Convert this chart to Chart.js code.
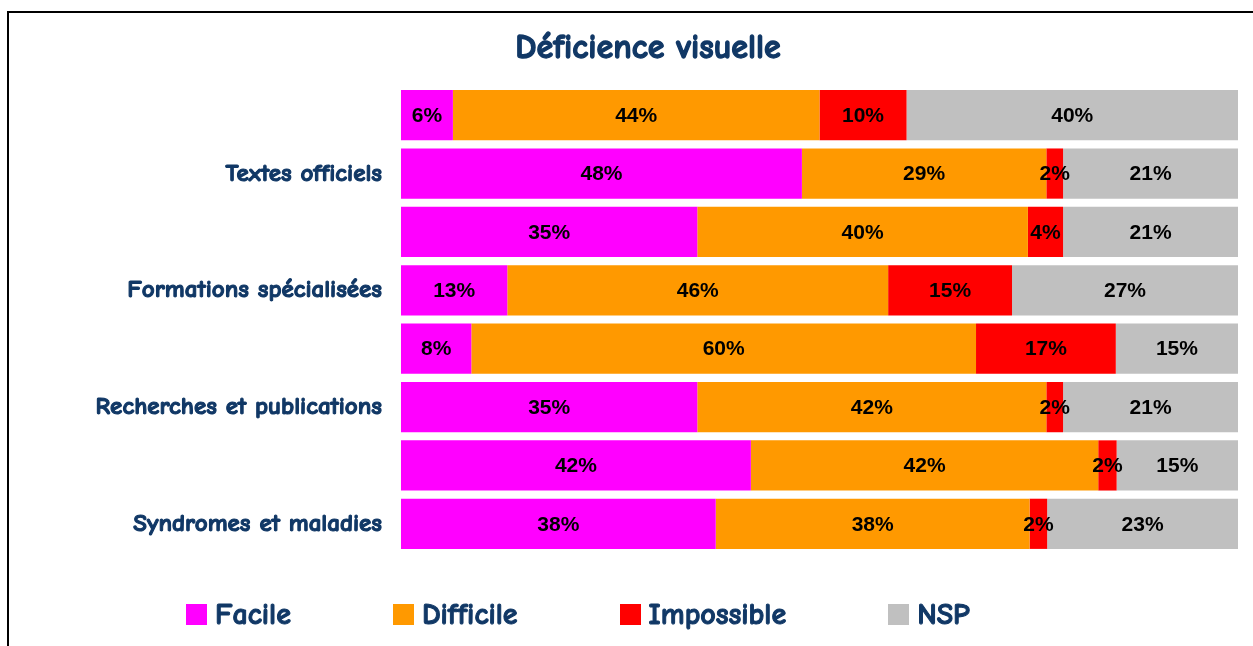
<!DOCTYPE html>
<html>
<head>
<meta charset="utf-8">
<script src="https://cdn.jsdelivr.net/npm/chart.js@4.4.0/dist/chart.umd.min.js"></script>
<style>
    html, body { margin: 0; padding: 0; background: #fff; }
    #wrap { position: relative; width: 1253px; height: 646px; overflow: hidden; }
    #frame { position: absolute; left: 7px; top: 11px; right: -5px; bottom: -5px;
        border-top: 2px solid #000; border-left: 2px solid #000; }
    #myChart { position: absolute; left: 0; top: 0; }
    #legend { position: absolute; left: 186px; top: 597px; display: flex; gap: 102px;
        font: bold 30px "Comic Sans MS", "Comic Neue", "DejaVu Sans", sans-serif; color: #113866;
        -webkit-text-stroke: 1px #113866; }
    .item { display: flex; align-items: center; }
    .box { width: 21px; height: 21px; margin-right: 8px; }
</style>
</head>
<body>
<div id="wrap">
    <div id="frame"></div>
    <canvas id="myChart" width="1253" height="646"></canvas>
    <div id="legend"></div>
</div>
<script>
const categories = ['', 'Textes officiels', '', 'Formations spécialisées', '', 'Recherches et publications', '', 'Syndromes et maladies'];
const seriesNames = ['Facile', 'Difficile', 'Impossible', 'NSP'];
const facile     = [6.2, 47.9, 35.4, 12.7, 8.4, 35.4, 41.8, 37.6];
const difficile  = [43.8, 29.2, 39.5, 45.5, 60.3, 41.7, 41.5, 37.5];
const impossible = [10.4, 2.0, 4.2, 14.8, 16.7, 2.0, 2.2, 2.1];
const nsp        = [39.6, 20.9, 20.9, 27.0, 14.6, 20.9, 14.5, 22.8];
const colors = ['#ff00ff', '#ff9900', '#ff0000', '#c0c0c0'];

const comic = '"Comic Sans MS", "Comic Neue", "DejaVu Sans", sans-serif';
const navy = '#113866';
const tickSize = 25, titleSize = 34;

// labels inside the bars
const barLabels = {
    id: 'barLabels',
    afterDatasetsDraw(chart) {
        const ctx = chart.ctx;
        ctx.save();
        ctx.font = 'bold 21px "Liberation Sans", Arial, sans-serif';
        ctx.fillStyle = '#000';
        ctx.textAlign = 'center';
        ctx.textBaseline = 'middle';
        chart.data.datasets.forEach((ds, i) => {
            chart.getDatasetMeta(i).data.forEach((bar, j) => {
                const x = (bar.x + bar.base) / 2;
                ctx.fillText(Math.round(ds.data[j]) + '%', x, bar.y + 1);
            });
        });
        ctx.restore();
    }
};

// category labels and title drawn heavier (no bold comic face installed)
const heavyText = {
    id: 'heavyText',
    afterDraw(chart) {
        const ctx = chart.ctx;
        const y = chart.scales.y;
        ctx.save();
        ctx.fillStyle = navy;
        ctx.strokeStyle = navy;
        ctx.lineWidth = 1.1;
        ctx.textAlign = 'right';
        ctx.textBaseline = 'middle';
        ctx.font = 'bold ' + tickSize + 'px ' + comic;
        categories.forEach((c, i) => {
            const px = y.right - y.options.ticks.padding;
            const py = y.getPixelForValue(i);
            ctx.fillText(c, px, py);
            ctx.strokeText(c, px, py);
        });
        const tb = chart.titleBlock;
        const tp = chart.options.plugins.title.padding;
        ctx.textAlign = 'center';
        ctx.font = 'bold ' + titleSize + 'px ' + comic;
        ctx.lineWidth = 1.3;
        ctx.strokeText(chart.options.plugins.title.text, (tb.left + tb.right) / 2, tb.top + tp.top + titleSize * 0.6);
        ctx.restore();
    }
};

const ctx = document.getElementById('myChart');
new Chart(ctx, {
    type: 'bar',
    data: {
        labels: categories,
        datasets: [facile, difficile, impossible, nsp].map((d, i) => ({
            label: seriesNames[i],
            data: d,
            backgroundColor: colors[i],
            borderWidth: 0,
            barPercentage: 0.86,
            categoryPercentage: 1
        }))
    },
    options: {
        indexAxis: 'y',
        responsive: false,
        animation: false,
        layout: { padding: { left: 58, right: 15, top: 12, bottom: 93 } },
        scales: {
            x: { stacked: true, min: 0, max: 100, display: false },
            y: {
                stacked: true,
                grid: { display: false },
                border: { display: false },
                ticks: {
                    padding: 19,
                    color: 'rgba(0,0,0,0)',
                    font: { family: comic, size: tickSize, weight: 'bold' }
                },
                afterFit(scale) { scale.width = 343; }
            }
        },
        plugins: {
            legend: { display: false },
            tooltip: { enabled: false },
            title: {
                display: true,
                text: 'Déficience visuelle',
                color: navy,
                font: { family: comic, size: titleSize, weight: 'bold' },
                padding: { top: 15.6, bottom: 17.6 }
            }
        }
    },
    plugins: [barLabels, heavyText]
});

const legend = document.getElementById('legend');
seriesNames.forEach((name, i) => {
    const item = document.createElement('div');
    item.className = 'item';
    item.innerHTML = '<span class="box" style="background:' + colors[i] + '"></span><span>' + name + '</span>';
    legend.appendChild(item);
});
</script>
</body>
</html>
